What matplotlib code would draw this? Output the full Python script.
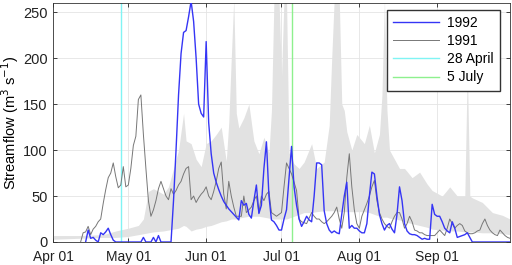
import numpy as np
import matplotlib
matplotlib.use("Agg")
import matplotlib.pyplot as plt
import matplotlib.dates as mdates

plt.rcParams["font.family"] = ["Liberation Sans", "DejaVu Sans"]

START = np.datetime64("1992-04-01")

# 1992 streamflow, (day after Apr 01, m3/s)
days_1992 = [13, 14, 15, 16, 17, 18, 19, 20, 21, 22, 23, 24, 25, 35, 36, 37, 39, 40, 41, 42, 43,
             47, 48, 49, 50, 51, 52, 53, 54, 55, 56, 57, 58, 59, 60, 61, 62, 63, 64, 65, 66, 67,
             68, 69, 70, 71, 72, 73, 74, 75, 76, 77, 78, 79, 80, 81, 82, 83, 84, 85, 86, 87, 88,
             89, 90, 91, 92, 93, 94, 95, 96, 97, 98, 99, 100, 101, 102, 103, 104, 105, 106, 107,
             108, 109, 110, 111, 112, 113, 114, 115, 116, 117, 118, 119, 120, 121, 122, 123, 124,
             125, 126, 127, 128, 129, 130, 131, 132, 133, 134, 135, 136, 137, 138, 139, 140, 141,
             142, 143, 144, 145, 146, 147, 148, 149, 150, 151, 152, 153, 154, 155, 156, 157, 158,
             159, 160, 161, 162, 163, 164, 165, 166, 167, 182]
flow_1992 = [0, 13, 4, 5, 2, 0, 10, 8, 11, 15, 8, 2, 0, 0, 5, 0, 0, 5, 0, 7, 0,
             0, 45, 100, 160, 205, 228, 230, 245, 262, 240, 200, 150, 140, 136, 218, 130, 96, 75, 65, 57, 50,
             44, 40, 36, 33, 30, 27, 24, 45, 40, 42, 30, 26, 45, 62, 31, 40, 80, 109, 50, 24, 22,
             18, 13, 13, 25, 35, 70, 104, 60, 40, 25, 17, 22, 28, 24, 22, 50, 86, 86, 84,
             34, 20, 13, 10, 12, 10, 9, 30, 50, 65, 15, 18, 15, 15, 12, 10, 10,
             20, 50, 76, 74, 50, 30, 20, 13, 18, 20, 14, 10, 30, 60, 45, 20, 12,
             9, 8, 8, 7, 5, 3, 4, 3, 3, 41, 30, 28, 28, 22, 15, 12, 10,
             22, 15, 5, 6, 7, 8, 10, 5, 0, 0]

# 1991 streamflow
days_1991 = list(range(11, 183))
flow_1991 = [0, 10, 11, 17, 8, 14, 17, 22, 25, 42, 57, 70, 75, 86, 71, 59, 62, 82, 60, 62,
             80, 105, 115, 155, 160, 117, 80, 45, 28, 35, 45, 58, 66, 58, 50, 46, 58, 52, 56, 62,
             66, 74, 80, 82, 46, 50, 43, 48, 52, 55, 60, 50, 46, 55, 66, 80, 87, 52, 36, 66,
             50, 38, 28, 28, 28, 50, 32, 35, 38, 45, 50, 32, 50, 45, 52, 55, 32, 30, 28, 30,
             32, 60, 86, 80, 74, 65, 56, 25, 22, 21, 20, 26, 32, 28, 25, 25, 22, 20, 22, 25,
             28, 32, 38, 25, 15, 32, 70, 96, 60, 35, 20, 15, 28, 35, 42, 50, 60, 67, 45, 32,
             25, 20, 17, 15, 22, 28, 32, 32, 25, 15, 20, 28, 22, 13, 12, 10, 10, 8, 7, 7,
             7, 7, 10, 13, 10, 7, 15, 25, 20, 15, 18, 20, 18, 12, 10, 9, 9, 10, 12, 13,
             20, 25, 18, 13, 10, 8, 7, 13, 10, 7, 5, 4]

# climatological envelope (shaded)
band_days = [0, 10, 20, 25, 30, 34, 36, 38, 40, 44, 46, 48, 50, 52, 53, 55, 57, 59, 61, 63,
             65, 67, 69, 70, 71, 72, 73, 74, 76, 78, 80, 82, 84, 86, 87, 88, 89, 90, 91, 92,
             93, 94, 96, 98, 100, 103, 105, 108, 110, 111, 112, 113, 114, 115, 116, 117, 119, 121, 124, 126,
             128, 130, 131, 132, 133, 134, 136, 138, 140, 143, 146, 149, 151, 155, 158, 161, 164, 165, 166, 167,
             171, 175, 179, 182]
band_upper = [7, 7, 8, 12, 15, 18, 25, 55, 58, 52, 60, 80, 100, 140, 110, 107, 90, 82, 107, 110,
              117, 125, 88, 130, 200, 265, 140, 124, 135, 150, 110, 96, 114, 97, 143, 265, 265, 265, 180, 265,
              265, 97, 85, 80, 87, 107, 80, 87, 127, 200, 265, 265, 265, 150, 143, 120, 100, 117, 107, 127,
              97, 117, 160, 265, 143, 100, 90, 80, 80, 70, 76, 63, 56, 50, 60, 50, 50, 190, 50, 48,
              43, 32, 29, 25]
band_lower = [3, 4, 5, 5, 6, 8, 9, 10, 11, 12, 13, 14, 15, 18, 17, 12, 14, 15, 17, 18,
              20, 22, 23, 24, 25, 25, 25, 26, 27, 28, 28, 28, 27, 26, 25, 25, 25, 25, 25, 25,
              25, 26, 28, 30, 32, 32, 33, 34, 34, 34, 34, 34, 33, 33, 33, 33, 33, 33, 33, 32,
              30, 28, 27, 27, 27, 26, 25, 24, 22, 20, 18, 16, 14, 13, 12, 12, 11, 11, 11, 11,
              10, 10, 9, 8]

marker_dates = ["1992-04-28", "1992-07-05"]
marker_labels = ["28 April", "5 July"]
marker_colors = ["#80f4f4", "#8ef08e"]


def to_dates(days):
    return START + np.array(days).astype("timedelta64[D]")


fig = plt.figure(figsize=(5.12, 2.65), dpi=100)
ax = fig.add_axes([0.1035, 0.0868, 0.8926, 0.9019])

ax.fill_between(to_dates(band_days), band_lower, band_upper,
                color="#e2e2e2", linewidth=0, zorder=1)
ax.plot(to_dates(days_1992), flow_1992, color="#3535f5", linewidth=1.0, label="1992", zorder=4)
ax.plot(to_dates(days_1991), flow_1991, color="#777777", linewidth=0.7, label="1991", zorder=3)
for d, lab, c in zip(marker_dates, marker_labels, marker_colors):
    ax.axvline(np.datetime64(d), color=c, linewidth=1.0, label=lab, zorder=2)

ax.set_xlim(START, START + np.timedelta64(182, "D"))
ax.set_ylim(0, 260)
ax.set_yticks([0, 50, 100, 150, 200, 250])
ax.xaxis.set_major_locator(mdates.MonthLocator())
ax.xaxis.set_major_formatter(mdates.DateFormatter("%b %d"))

ax.grid(True, color="#e4e4e4", linewidth=0.6, zorder=0)
ax.set_axisbelow(True)
ax.tick_params(direction="in", top=True, right=True, length=3, width=0.6,
               labelsize=10.5, colors="#222222")
ax.tick_params(axis="x", pad=6, labelsize=10)
ax.tick_params(axis="y", pad=4)
for s in ax.spines.values():
    s.set_linewidth(0.6)
    s.set_color("#333333")

ax.set_ylabel("Streamflow (m$^3$ s$^{-1}$)", fontsize=10.5, labelpad=1)

ax.legend(loc="upper right", bbox_to_anchor=(0.978, 0.972), fontsize=10, frameon=True,
          fancybox=False, edgecolor="#333333", framealpha=1, handlelength=3.3,
          borderaxespad=0, labelspacing=0.3, handletextpad=0.6, borderpad=0.45)

fig.savefig("out.png", dpi=100)
